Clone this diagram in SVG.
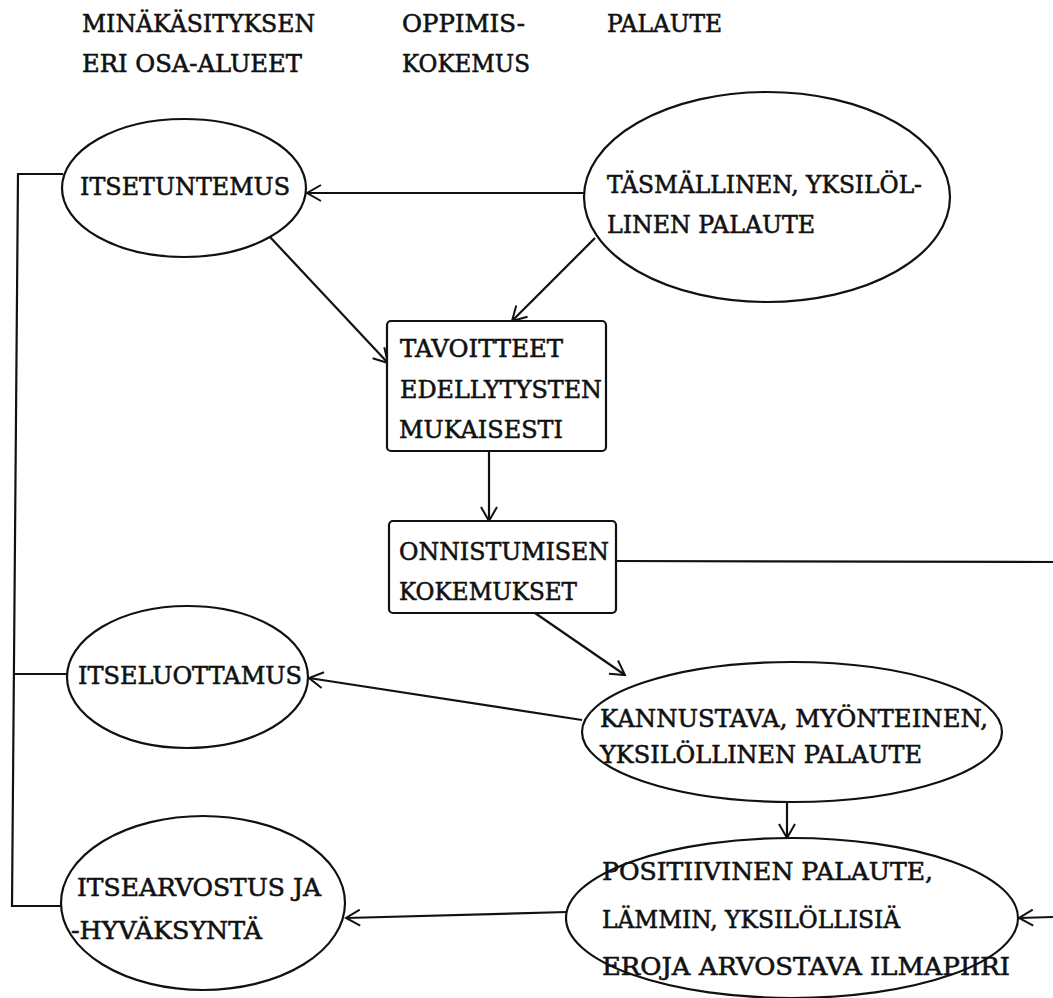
<svg xmlns="http://www.w3.org/2000/svg" width="1053" height="998" viewBox="0 0 1053 998">
<style>
  text { font-family: "DejaVu Serif", "Liberation Serif", serif; font-size: 25px; fill: #111; stroke: #111; stroke-width: 0.6; }
  .shape { fill: #fff; stroke: #111; stroke-width: 2.2; }
  .conn { fill: none; stroke: #111; stroke-width: 2.2; }
</style>
<defs>
  <marker id="arr" markerUnits="userSpaceOnUse" viewBox="0 0 18 18" markerWidth="18" markerHeight="18" refX="16" refY="9" orient="auto">
    <path d="M2,1 L16,9 L2,17" fill="none" stroke="#111" stroke-width="2"/>
  </marker>
</defs>
<rect width="1053" height="998" fill="#fff"/>

<g id="headers">
  <text x="82" y="32" textLength="233" lengthAdjust="spacingAndGlyphs">MINÄKÄSITYKSEN</text>
  <text x="82" y="72" textLength="220" lengthAdjust="spacingAndGlyphs">ERI  OSA-ALUEET</text>
  <text x="402" y="32" textLength="123" lengthAdjust="spacingAndGlyphs">OPPIMIS-</text>
  <text x="402" y="72" textLength="128" lengthAdjust="spacingAndGlyphs">KOKEMUS</text>
  <text x="607" y="32" textLength="115" lengthAdjust="spacingAndGlyphs">PALAUTE</text>
</g>

<g id="connectors">
  <path class="conn" d="M63,174 L18,174 L12,906 L61,906"/>
  <path class="conn" d="M15,674 L67,674"/>
  <path class="conn" d="M584,193 L307,193" marker-end="url(#arr)"/>
  <path class="conn" d="M270,237 L388,363" marker-end="url(#arr)"/>
  <path class="conn" d="M595,238 L512,321" marker-end="url(#arr)"/>
  <path class="conn" d="M489,451 L489,521" marker-end="url(#arr)"/>
  <path class="conn" d="M616,561 L1053,562"/>
  <path class="conn" d="M535,613 L625,675" marker-end="url(#arr)"/>
  <path class="conn" d="M582,720 L309,678" marker-end="url(#arr)"/>
  <path class="conn" d="M787,803 L787,838" marker-end="url(#arr)"/>
  <path class="conn" d="M567,912 L346,918" marker-end="url(#arr)"/>
  <path class="conn" d="M1053,917 L1019,918" marker-end="url(#arr)"/>
</g>

<g id="itsetuntemus">
  <ellipse class="shape" cx="184" cy="188" rx="122" ry="69"/>
  <text x="80" y="195" textLength="210" lengthAdjust="spacingAndGlyphs">ITSETUNTEMUS</text>
</g>

<g id="tasmallinen">
  <ellipse class="shape" cx="767" cy="197" rx="183" ry="105"/>
  <text x="607" y="193" textLength="315" lengthAdjust="spacingAndGlyphs">TÄSMÄLLINEN,  YKSILÖL-</text>
  <text x="607" y="233" textLength="208" lengthAdjust="spacingAndGlyphs">LINEN  PALAUTE</text>
</g>

<g id="tavoitteet">
  <rect class="shape" x="387" y="321" width="219" height="130" rx="4"/>
  <text x="400" y="357" textLength="163" lengthAdjust="spacingAndGlyphs">TAVOITTEET</text>
  <text x="400" y="398" textLength="202" lengthAdjust="spacingAndGlyphs">EDELLYTYSTEN</text>
  <text x="399" y="438" textLength="164" lengthAdjust="spacingAndGlyphs">MUKAISESTI</text>
</g>

<g id="onnistumisen">
  <rect class="shape" x="389" y="521" width="227" height="92" rx="4"/>
  <text x="399" y="560" textLength="210" lengthAdjust="spacingAndGlyphs">ONNISTUMISEN</text>
  <text x="399" y="600" textLength="178" lengthAdjust="spacingAndGlyphs">KOKEMUKSET</text>
</g>

<g id="itseluottamus">
  <ellipse class="shape" cx="187.5" cy="677" rx="120.5" ry="71"/>
  <text x="78" y="684" textLength="224" lengthAdjust="spacingAndGlyphs">ITSELUOTTAMUS</text>
</g>

<g id="kannustava">
  <ellipse class="shape" cx="792" cy="732" rx="210" ry="70"/>
  <text x="600" y="727" textLength="388" lengthAdjust="spacingAndGlyphs">KANNUSTAVA,  MYÖNTEINEN,</text>
  <text x="600" y="763" textLength="322" lengthAdjust="spacingAndGlyphs">YKSILÖLLINEN  PALAUTE</text>
</g>

<g id="itsearvostus">
  <ellipse class="shape" cx="203" cy="903" rx="142" ry="87"/>
  <text x="77" y="896" textLength="244" lengthAdjust="spacingAndGlyphs">ITSEARVOSTUS  JA</text>
  <text x="71" y="939" textLength="191" lengthAdjust="spacingAndGlyphs">-HYVÄKSYNTÄ</text>
</g>

<g id="positiivinen">
  <ellipse class="shape" cx="792" cy="918" rx="226" ry="80"/>
  <text x="602" y="880" textLength="331" lengthAdjust="spacingAndGlyphs">POSITIIVINEN  PALAUTE,</text>
  <text x="602" y="928" textLength="298" lengthAdjust="spacingAndGlyphs">LÄMMIN,  YKSILÖLLISIÄ</text>
  <text x="602" y="975" textLength="408" lengthAdjust="spacingAndGlyphs">EROJA  ARVOSTAVA  ILMAPIIRI</text>
</g>
</svg>
